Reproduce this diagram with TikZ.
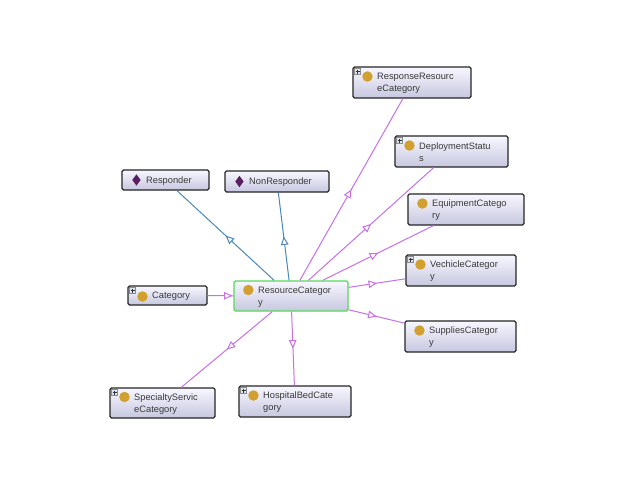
\documentclass[tikz,border=0pt]{standalone}
\usepackage{fontspec}
\setmainfont{Liberation Sans}
\usetikzlibrary{arrows.meta,decorations.markings,shapes.geometric}
\definecolor{isablue}{HTML}{4A88BC}
\definecolor{subpurple}{HTML}{C870E8}
\definecolor{inkdark}{HTML}{3A3A3A}
\definecolor{dotgold}{HTML}{D2A02E}
\definecolor{plum}{HTML}{5A1F5E}
\definecolor{greenedge}{HTML}{58D858}
\definecolor{plusbg}{HTML}{DCE6F0}
\tikzset{
  x=1pt,y=-1pt,
  classbox/.style={draw=black!85,line width=1.1pt,rounded corners=1.5pt,top color=white!97!blue,bottom color=blue!45!black!22!white,inner sep=0pt,shading angle=0},
  focusbox/.style={classbox,draw=greenedge,line width=1.4pt},
  classtext/.style={anchor=west,align=left,inner sep=0pt,text=inkdark,font=\fontsize{9.3}{12}\selectfont},
  golddot/.style={circle,fill=dotgold,inner sep=0pt,minimum size=10.5pt},
  indiv/.style={diamond,fill=plum,inner sep=0pt,minimum width=8.5pt,minimum height=11.5pt},
  plusbox/.style={draw=black!45,line width=.4pt,fill=plusbg,inner sep=0pt,minimum size=6pt},
  midtip/.style={decoration={markings,mark=at position #1 with {\arrow{Triangle[length=8.5pt,width=7.5pt,fill=white]}}},postaction={decorate}},
  bluelink/.style={draw=isablue,line width=1pt,midtip=.5},
  purplelink/.style={draw=subpurple,line width=1pt,midtip=.5},
  purplelinkend/.style={draw=subpurple,line width=1pt,midtip=.97}
}
% name, left, top, right, bottom, text, style
\newcommand{\classnode}[7]{%
  \node[#7,minimum width=#4pt-#2pt,minimum height=#5pt-#3pt] (#1) at ({(#2+#4)/2},{(#3+#5)/2}) {};
  \node[classtext] (#1txt) at ({#2+24},{(#3+#5)/2+1}) {#6};
}
\newcommand{\twolinedot}[1]{\node[golddot] (#1dot) at ([xshift=15pt,yshift=7pt]#1txt.west -| #1.west) {};}
\newcommand{\onelinedot}[1]{\node[golddot] (#1dot) at ([xshift=15pt]#1txt.west -| #1.west) {};}
\newcommand{\onelinediam}[1]{\node[indiv] (#1dot) at ([xshift=15pt,yshift=1pt]#1txt.west -| #1.west) {};}
\newcommand{\plusicon}[1]{%
  \node[plusbox,anchor=north west] (#1plus) at ([xshift=2pt,yshift=-2pt]#1.north west) {};
  \draw[line width=.4pt,black!80] ([xshift=-2pt]#1plus.center) -- ([xshift=2pt]#1plus.center);
  \draw[line width=.4pt,black!80] ([yshift=-2pt]#1plus.center) -- ([yshift=2pt]#1plus.center);
}
\begin{document}
\begin{tikzpicture}
\useasboundingbox (0,0) rectangle (641,498);
\fill[white] (0,0) rectangle (641,498);

\classnode{rrc}{353}{67}{471}{98}{ResponseResourc\\eCategory}{classbox}
\classnode{dep}{395}{136}{508}{167}{DeploymentStatu\\s}{classbox}
\classnode{equ}{408}{194}{524}{225}{EquipmentCatego\\ry}{classbox}
\classnode{vec}{406}{255}{516}{286}{VechicleCategor\\y}{classbox}
\classnode{sup}{405}{321}{516}{352}{SuppliesCategor\\y}{classbox}
\classnode{spe}{110}{388}{215}{418}{SpecialtyServic\\eCategory}{classbox}
\classnode{hos}{239}{386}{351}{417}{HospitalBedCate\\gory}{classbox}
\classnode{cat}{128}{286}{207}{305}{Category}{classbox}
\classnode{res}{234}{281}{348}{311}{ResourceCategor\\y}{focusbox}
\classnode{rsp}{122}{170}{209}{190}{Responder}{classbox}
\classnode{non}{225}{171}{329}{192}{NonResponder}{classbox}

\foreach \n in {rrc,dep,equ,vec,sup,spe,hos,res}{\twolinedot{\n}}
\onelinedot{cat}
\onelinediam{rsp}
\onelinediam{non}
\foreach \n in {rrc,dep,vec,spe,hos,cat}{\plusicon{\n}}

\draw[bluelink] (res) -- (rsp);
\draw[bluelink] (res) -- (non);
\draw[purplelink] (res) -- (rrc);
\draw[purplelink] (res) -- (dep);
\draw[purplelink] (res) -- (equ);
\draw[purplelink] (res) -- (vec);
\draw[purplelink] (res) -- (sup);
\draw[purplelink] (res) -- (hos);
\draw[purplelink] (res) -- (spe);
\draw[purplelinkend] (cat) -- (res);
\end{tikzpicture}
\end{document}
